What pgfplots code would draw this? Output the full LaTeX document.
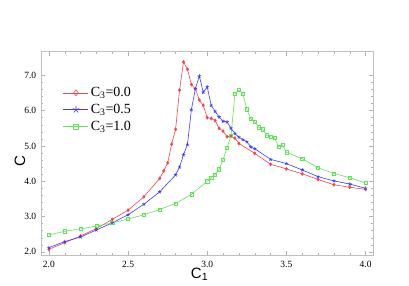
\documentclass[border=0pt]{standalone}
\usepackage{fontspec}
\setmainfont{Liberation Serif}
\setsansfont{Liberation Sans}
\usepackage{pgfplots}
\pgfplotsset{compat=1.18}
\definecolor{cred}{RGB}{240,70,80}
\definecolor{cblue}{RGB}{60,60,240}
\definecolor{cgreen}{RGB}{100,225,90}
\begin{document}
\begin{tikzpicture}[x=1pt,y=1pt]
\useasboundingbox (0,0) rectangle (409,286);
\begin{axis}[
  at={(40.7pt,31pt)}, anchor=south west,
  scale only axis, width=332.3pt, height=203.3pt,
  xmin=1.948, xmax=4.047, ymin=1.91, ymax=7.67,
  xtick={2.0,2.5,3.0,3.5,4.0}, ytick={2,3,4,5,6,7},
  xticklabels={2.0,2.5,3.0,3.5,4.0},
  yticklabels={2.0,3.0,4.0,5.0,6.0,7.0},
  minor x tick num=4, minor y tick num=4,
  tick align=inside, major tick length=4pt, minor tick length=2pt,
  axis line style={gray!50}, every tick/.style={gray!60},
  ticklabel style={font=\fontsize{9.5}{10}\selectfont},
  xticklabel style={yshift=-3pt},
  yticklabel style={xshift=-1pt},
  xlabel={\sffamily\fontsize{15}{16}\selectfont C\textsubscript{1}},
  ylabel={\sffamily\fontsize{15}{16}\selectfont C},
  xlabel style={at={(axis description cs:0.478,0)}, anchor=north, yshift=-9pt},
  ylabel style={at={(axis description cs:0,0.46)}, anchor=south, yshift=12pt},
  legend style={draw=none, fill=none, at={(axis description cs:0.058,0.845)}, anchor=north west, font=\fontsize{14}{15}\selectfont, row sep=2pt},
  legend cell align=left,
  legend image code/.code={\draw[mark repeat=2,mark phase=2] plot coordinates {(0pt,0pt)(12.5pt,0pt)(25pt,0pt)};},
  every axis plot/.append style={line width=0.6pt},
]
\addlegendimage{cred, line width=0.6pt, mark=diamond, mark size=3pt}
\addlegendentry{C\textsubscript{3}=0.0}
\addlegendimage{cblue, line width=0.6pt, mark=star, mark size=3.5pt}
\addlegendentry{C\textsubscript{3}=0.5}
\addlegendimage{cgreen, line width=0.6pt, mark=square, mark size=2.5pt}
\addlegendentry{C\textsubscript{3}=1.0}
\addplot[cred, mark=diamond*, mark size=1.5pt, mark options={fill=cred}, forget plot] coordinates {
(2.0,2.07)(2.1,2.26)(2.2,2.45)(2.3,2.66)(2.4,2.92)(2.5,3.18)(2.6,3.56)(2.7,4.08)
(2.725,4.29)(2.75,4.52)(2.775,5.05)(2.8,5.47)(2.825,6.58)(2.85,7.38)(2.875,7.17)
(2.9,6.74)(2.925,6.62)(2.95,6.30)(2.975,6.15)(3.0,5.80)(3.025,5.78)(3.05,5.72)
(3.075,5.50)(3.1,5.42)(3.125,5.26)(3.15,5.28)(3.175,5.22)(3.2,5.07)(3.3,4.79)
(3.4,4.48)(3.5,4.35)(3.6,4.21)(3.7,4.05)(3.8,3.90)(3.9,3.83)(4.0,3.77)};
\addplot[cblue, mark=star, mark size=1.8pt, forget plot] coordinates {
(2.0,2.12)(2.1,2.29)(2.2,2.42)(2.3,2.62)(2.4,2.82)(2.5,3.05)(2.6,3.35)(2.7,3.70)
(2.8,4.18)(2.825,4.40)(2.85,4.75)(2.875,5.04)(2.9,6.03)(2.925,6.62)(2.95,6.98)
(2.975,6.52)(3.0,6.67)(3.025,6.15)(3.05,5.98)(3.075,5.82)(3.1,5.70)(3.125,5.68)
(3.15,5.50)(3.175,5.35)(3.2,5.25)(3.225,5.18)(3.25,5.12)(3.275,4.97)(3.3,4.92)
(3.4,4.62)(3.5,4.50)(3.6,4.32)(3.7,4.13)(3.8,4.01)(3.9,3.92)(4.0,3.80)};
\addplot[cgreen, mark=square, mark size=1.6pt, forget plot] coordinates {
(2.0,2.48)(2.1,2.58)(2.2,2.65)(2.3,2.73)(2.4,2.82)(2.5,2.93)(2.6,3.05)(2.7,3.20)
(2.8,3.37)(2.9,3.63)(3.0,4.00)(3.025,4.10)(3.05,4.18)(3.075,4.34)(3.1,4.61)
(3.125,4.95)(3.15,5.28)(3.175,6.48)(3.2,6.58)(3.225,6.48)(3.25,6.04)(3.275,5.77)
(3.3,5.69)(3.325,5.53)(3.35,5.47)(3.375,5.30)(3.4,5.26)(3.425,5.23)(3.45,4.98)
(3.475,5.03)(3.5,4.82)(3.6,4.64)(3.7,4.38)(3.8,4.22)(3.9,4.10)(4.0,3.95)};
\end{axis}
\end{tikzpicture}
\end{document}
